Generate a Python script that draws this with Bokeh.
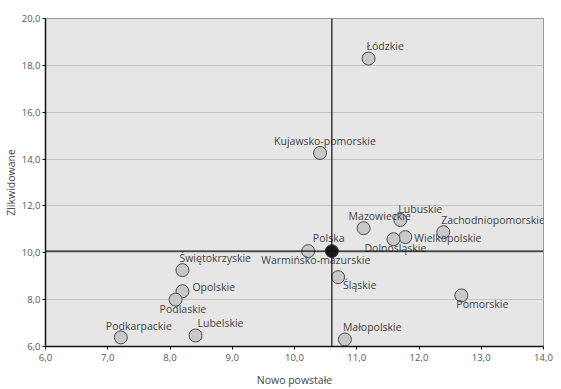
from bokeh.plotting import figure
from bokeh.models import ColumnDataSource, Span, FixedTicker, CustomJSTickFormatter
from bokeh.core.properties import value
from bokeh.embed import file_html
from bokeh.resources import INLINE

# Data
regions = ["Łódzkie", "Kujawsko-pomorskie", "Mazowieckie", "Lubuskie", "Zachodniopomorskie",
           "Wielkopolskie", "Dolnośląskie", "Polska", "Warmińsko-mazurskie", "Świętokrzyskie",
           "Opolskie", "Podlaskie", "Podkarpackie", "Lubelskie", "Śląskie", "Małopolskie", "Pomorskie"]
nowo_powstale = [11.19, 10.41, 11.11, 11.70, 12.39, 11.78, 11.59, 10.60, 10.22, 8.20,
                 8.20, 8.09, 7.21, 8.41, 10.70, 10.81, 12.68]
zlikwidowane = [18.29, 14.26, 11.05, 11.40, 10.88, 10.67, 10.58, 10.07, 10.07, 9.26,
                8.36, 8.00, 6.39, 6.47, 8.96, 6.30, 8.18]
x_ticks = [6, 7, 8, 9, 10, 11, 12, 13, 14]
y_ticks = [6, 8, 10, 12, 14, 16, 18, 20]

# Label placement (screen pixel offsets, styling only)
label_dx = {"Łódzkie": -2, "Kujawsko-pomorskie": -46, "Mazowieckie": -15, "Lubuskie": -2,
            "Zachodniopomorskie": -2, "Wielkopolskie": 9, "Dolnośląskie": -29, "Polska": -19,
            "Warmińsko-mazurskie": -47, "Świętokrzyskie": -3, "Opolskie": 10, "Podlaskie": -16,
            "Podkarpackie": -15, "Lubelskie": 2, "Śląskie": 5, "Małopolskie": -2, "Pomorskie": -5}
label_dy = {"Łódzkie": -13, "Kujawsko-pomorskie": -12, "Mazowieckie": -12, "Lubuskie": -11,
            "Zachodniopomorskie": -12, "Wielkopolskie": 1, "Dolnośląskie": 9, "Polska": -13,
            "Warmińsko-mazurskie": 9, "Świętokrzyskie": -12, "Opolskie": -4, "Podlaskie": 9,
            "Podkarpackie": -11, "Lubelskie": -12, "Śląskie": 8, "Małopolskie": -12, "Pomorskie": 9}

FONT = "Open Sans"

p = figure(width=561, height=389, x_range=(6, 14), y_range=(6, 20),
           output_backend="svg", toolbar_location=None,
           min_border_left=36, min_border_right=18, min_border_top=18, min_border_bottom=40)
p.background_fill_color = "#e6e6e6"
p.border_fill_color = "white"
p.outline_line_color = "#9a9a9a"
p.outline_line_width = 1

p.xgrid.visible = False
p.ygrid.ticker = FixedTicker(ticks=y_ticks)
p.ygrid.grid_line_color = "#c4c4c4"
p.ygrid.grid_line_width = 1

fmt = CustomJSTickFormatter(code="return tick.toFixed(1).replace('.', ',');")
for ax, ticks in ((p.xaxis[0], x_ticks), (p.yaxis[0], y_ticks)):
    ax.ticker = FixedTicker(ticks=ticks)
    ax.formatter = fmt
    ax.axis_line_color = "#111111"
    ax.axis_line_width = 1.5
    ax.major_tick_line_color = "#111111"
    ax.major_tick_out = 3
    ax.major_tick_in = 0
    ax.minor_tick_line_color = None
    ax.major_label_text_font = FONT
    ax.major_label_text_font_size = "9.5px"
    ax.major_label_text_color = "#555555"
    ax.axis_label_text_font = FONT
    ax.axis_label_text_font_size = "10.5px"
    ax.axis_label_text_font_style = "normal"
    ax.axis_label_text_color = "#444444"
p.xaxis.axis_label = "Nowo powstałe"
p.yaxis.axis_label = "Zlikwidowane"
p.xaxis.major_label_standoff = 4
p.xaxis.axis_label_standoff = 9
p.yaxis.major_label_standoff = 2
p.yaxis.axis_label_standoff = 1

pi = regions.index("Polska")
p.add_layout(Span(location=nowo_powstale[pi], dimension="height", line_color="#111111", line_width=1.2))
p.add_layout(Span(location=zlikwidowane[pi], dimension="width", line_color="#111111", line_width=1.2))

fill = ["#1a1a1a" if r == "Polska" else "#c8c8c8" for r in regions]
src = ColumnDataSource(dict(
    x=nowo_powstale, y=zlikwidowane, name=regions, fill=fill,
    dx=[label_dx[r] for r in regions], dy=[label_dy[r] for r in regions]))

p.scatter("x", "y", source=src, size=13, fill_color="fill", line_color="#4a4a4a", line_width=1)
p.text("x", "y", text="name", source=src, x_offset="dx", y_offset="dy",
       text_align="left", text_baseline="middle", text_font=value(FONT),
       text_font_size="10.5px", text_color="#444444")

open("out.html", "w").write(file_html(p, INLINE))
